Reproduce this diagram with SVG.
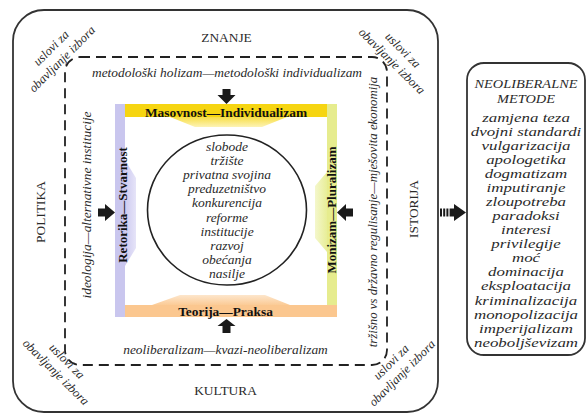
<svg xmlns="http://www.w3.org/2000/svg" width="588" height="415" viewBox="0 0 588 415">
<style>
  .t { font-family: "Liberation Serif", "Times New Roman", serif; fill: #2a2a2a; }
  .it { font-style: italic; }
  .b { font-weight: bold; fill: #111; }
  .s134 { font-size: 13.4px; }
  .s13 { font-size: 13px; }
  .s125 { font-size: 12.5px; }
  .frame { fill: none; stroke: #333; stroke-width: 1.8; }
  .dash { fill: none; stroke: #222; stroke-width: 1.8; stroke-dasharray: 10 6; }
  .arr { fill: #1a1a1a; }
</style>
<defs>
  <linearGradient id="gY" x1="0" y1="0" x2="0" y2="1">
    <stop offset="0" stop-color="#f8de45"/>
    <stop offset="1" stop-color="#fdf3b5"/>
  </linearGradient>
  <linearGradient id="gO" x1="0" y1="1" x2="0" y2="0">
    <stop offset="0" stop-color="#fbcb96"/>
    <stop offset="1" stop-color="#fde6cc"/>
  </linearGradient>
  <linearGradient id="gP" x1="0" y1="0" x2="1" y2="0">
    <stop offset="0" stop-color="#cdcaf0"/>
    <stop offset="1" stop-color="#e6e4f8"/>
  </linearGradient>
  <linearGradient id="gG" x1="1" y1="0" x2="0" y2="0">
    <stop offset="0" stop-color="#e8ee98"/>
    <stop offset="1" stop-color="#f4f7cc"/>
  </linearGradient>
</defs>

<g id="outer-frame">
  <rect class="frame" x="13" y="10" width="425" height="402" rx="31" ry="31"/>
  <text class="t s134" x="226.5" y="41.5" text-anchor="middle">ZNANJE</text>
  <text class="t s134" x="225.5" y="394.5" text-anchor="middle">KULTURA</text>
  <text class="t s134" transform="translate(44.5,212) rotate(-90)" text-anchor="middle">POLITIKA</text>
  <text class="t s134" transform="translate(417.5,209) rotate(-90)" text-anchor="middle">ISTORIJA</text>
</g>

<g id="corner-labels">
  <g transform="translate(57,54) rotate(-45)">
    <text class="t it s125" x="0" y="-4.3" text-anchor="middle">uslovi za</text>
    <text class="t it s125" x="0" y="11.3" text-anchor="middle">obavljanje izbora</text>
  </g>
  <g transform="translate(397,56) rotate(45)">
    <text class="t it s125" x="0" y="-4.3" text-anchor="middle">uslovi za</text>
    <text class="t it s125" x="0" y="11.3" text-anchor="middle">obavljanje izbora</text>
  </g>
  <g transform="translate(61,367) rotate(45)">
    <text class="t it s125" x="0" y="-4.3" text-anchor="middle">uslovi za</text>
    <text class="t it s125" x="0" y="11.3" text-anchor="middle">obavljanje izbora</text>
  </g>
  <g transform="translate(397,368) rotate(-45)">
    <text class="t it s125" x="0" y="-4.3" text-anchor="middle">uslovi za</text>
    <text class="t it s125" x="0" y="11.3" text-anchor="middle">obavljanje izbora</text>
  </g>
</g>

<g id="dashed-frame">
  <rect class="dash" x="65" y="57" width="322" height="308" rx="15" ry="15"/>
  <text class="t it s134" x="227" y="77" text-anchor="middle">metodološki holizam—metodološki individualizam</text>
  <text class="t it s134" x="225.5" y="354" text-anchor="middle">neoliberalizam—kvazi-neoliberalizam</text>
  <text class="t it s134" transform="translate(91,205) rotate(-90)" text-anchor="middle">ideologija—alternativne institucije</text>
  <text class="t it" style="font-size:12.8px" transform="translate(377,212) rotate(-90)" text-anchor="middle">tržišno vs državno regulisanje—mješovita ekonomija</text>
</g>

<g id="bar-top">
  <polygon points="170,117 287,117 262,127 195,127" fill="url(#gY)"/>
  <rect x="125" y="104" width="202" height="13" fill="#f6d511"/>
  <text class="t b s134" x="226" y="116.5" text-anchor="middle">Masovnost—Individualizam</text>
</g>

<g id="bar-right">
  <polygon points="327,172 327,252 315,238 315,186" fill="url(#gG)"/>
  <rect x="327" y="104" width="10" height="201" fill="#e6ec8e"/>
  <text class="t b s13" transform="translate(335.5,210) rotate(-90)" text-anchor="middle">Monizam—Pluralizam</text>
</g>

<g id="bar-bottom">
  <polygon points="152,305 290,305 265,295 180,295" fill="url(#gO)"/>
  <rect x="125" y="305" width="212" height="12" fill="#fbc78f"/>
  <text class="t b s134" x="225.5" y="316" text-anchor="middle">Teorija—Praksa</text>
</g>

<g id="bar-left">
  <polygon points="125,160 125,266 136,248 136,178" fill="url(#gP)"/>
  <rect x="115" y="104" width="10" height="213" fill="#c9c6ee"/>
  <text class="t b s13" transform="translate(126.5,205) rotate(-90)" text-anchor="middle">Retorika—Stvarnost</text>
</g>

<g id="center-circle">
  <ellipse cx="227" cy="210" rx="79.5" ry="75" fill="#fff" stroke="#222" stroke-width="1.6"/>
  <g class="t it" style="font-size:13.5px" text-anchor="middle">
    <text x="227" y="151">slobode</text>
    <text x="227" y="165.1">tržište</text>
    <text x="227" y="179.2">privatna svojina</text>
    <text x="227" y="193.3">preduzetništvo</text>
    <text x="227" y="207.4">konkurencija</text>
    <text x="227" y="221.5">reforme</text>
    <text x="227" y="235.6">institucije</text>
    <text x="227" y="249.7">razvoj</text>
    <text x="227" y="263.8">obećanja</text>
    <text x="227" y="277.9">nasilje</text>
  </g>
</g>

<g id="methods-box">
  <rect class="frame" x="467" y="63" width="118" height="292" rx="17" ry="17" stroke-width="1.6"/>
  <g transform="translate(526,0) scale(1.15,1)">
    <text class="t it s125" x="0" y="87.7" text-anchor="middle">NEOLIBERALNE</text>
    <text class="t it s125" x="0" y="102.7" text-anchor="middle">METODE</text>
  </g>
  <g class="t it s13" transform="translate(526,0) scale(1.3,1)" text-anchor="middle">
    <text x="0" y="121.8">zamjena teza</text>
    <text x="0" y="135.9">dvojni standardi</text>
    <text x="0" y="149.9">vulgarizacija</text>
    <text x="0" y="164">apologetika</text>
    <text x="0" y="178">dogmatizam</text>
    <text x="0" y="192.1">imputiranje</text>
    <text x="0" y="206.2">zloupotreba</text>
    <text x="0" y="220.2">paradoksi</text>
    <text x="0" y="234.3">interesi</text>
    <text x="0" y="248.3">privilegije</text>
    <text x="0" y="262.4">moć</text>
    <text x="0" y="276.5">dominacija</text>
    <text x="0" y="290.5">eksploatacija</text>
    <text x="0" y="304.6">kriminalizacija</text>
    <text x="0" y="318.6">monopolizacija</text>
    <text x="0" y="332.7">imperijalizam</text>
    <text x="0" y="346.8">neoboljševizam</text>
  </g>
</g>

<g id="connectors">
  <polygon class="arr" points="222.5,89 230.5,89 230.5,95 235.5,95 226.5,104 217.5,95 222.5,95"/>
  <polygon class="arr" fill="#2b2b2b" points="222.5,333 230.5,333 230.5,326 235.5,326 226.5,319 217.5,326 222.5,326"/>
  <polygon class="arr" points="98,208.5 105,208.5 105,204 115,212.5 105,221 105,216.5 98,216.5"/>
  <polygon class="arr" points="353,208.5 346,208.5 346,204 337,212.5 346,221 346,216.5 353,216.5"/>
  <g class="arr">
    <rect x="440" y="208.5" width="2" height="8"/>
    <rect x="443.2" y="208.5" width="2" height="8"/>
    <rect x="446.4" y="208.5" width="2" height="8"/>
    <rect x="449.6" y="208.5" width="5" height="8"/>
    <polygon points="454,204 466,212.5 454,221"/>
  </g>
</g>
</svg>
